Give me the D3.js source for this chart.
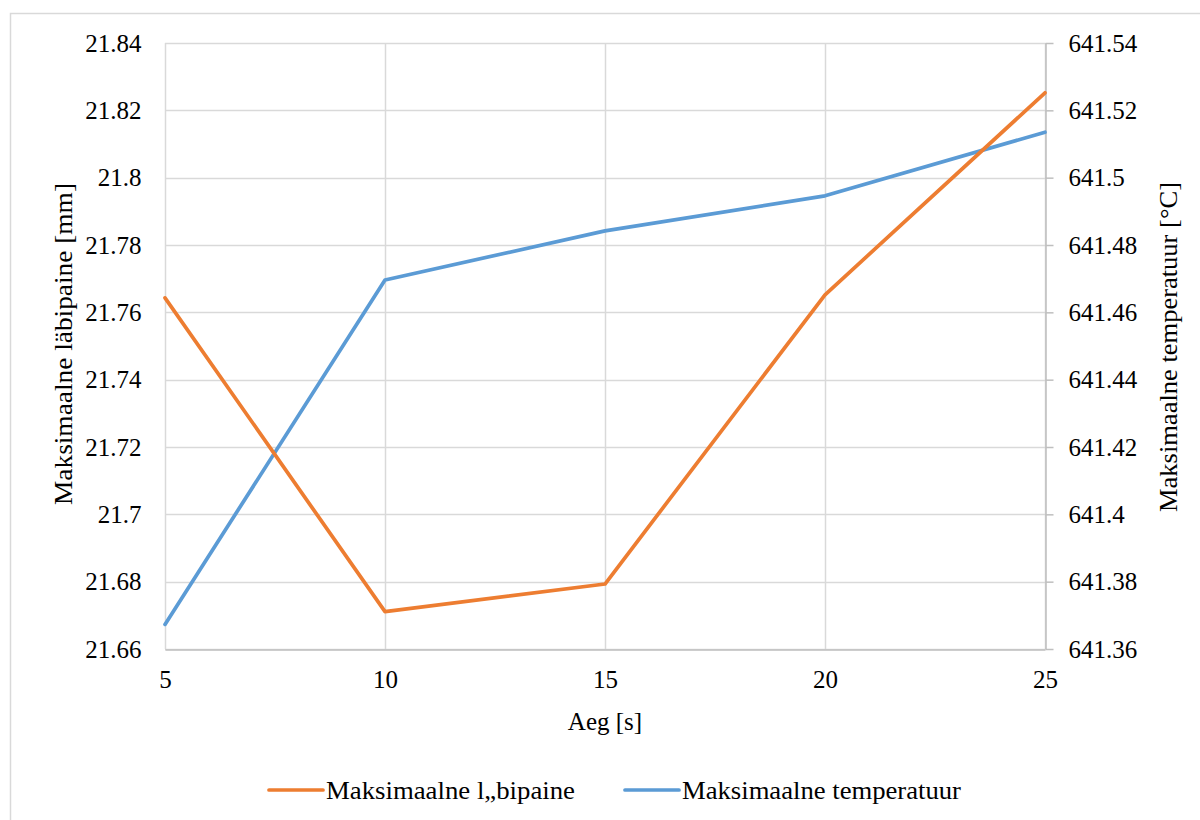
<!DOCTYPE html>
<html>
<head>
<meta charset="utf-8">
<script src="https://cdn.jsdelivr.net/npm/d3@7"></script>
<style>
  html, body { margin: 0; padding: 0; background: #fff; }
  svg { display: block; }
</style>
</head>
<body>
<svg id="chart" width="1200" height="820"></svg>
<script>
// Time steps and the two measured series
const times = [5, 10, 15, 20, 25];
const deflection = [21.7643, 21.6711, 21.6793, 21.7652, 21.8252];
const temperature = [641.3673, 641.4696, 641.4842, 641.4946, 641.5135];

const xTicks = [5, 10, 15, 20, 25];
const leftTicks = [21.66, 21.68, 21.70, 21.72, 21.74, 21.76, 21.78, 21.80, 21.82, 21.84];
const rightTicks = [641.36, 641.38, 641.40, 641.42, 641.44, 641.46, 641.48, 641.50, 641.52, 641.54];

const seriesNames = ["Maksimaalne l\u201ebipaine", "Maksimaalne temperatuur"];
const seriesColors = ["#ED7D31", "#5B9BD5"];

const FONT = "'Liberation Serif', 'Times New Roman', Times, 'DejaVu Serif', serif";
const FS = 25;
const LINE_W = 3.7;

const svg = d3.select("#chart");
const plot = { left: 165, right: 1045, top: 43, bottom: 649 };

// chart frame
svg.append("rect")
  .attr("x", 10.5).attr("y", 13.5)
  .attr("width", 1200).attr("height", 820)
  .attr("fill", "#fff").attr("stroke", "#d9d9d9").attr("stroke-width", 1.5);

const x = d3.scaleLinear().domain([5, 25]).range([plot.left, plot.right]);
const yL = d3.scaleLinear().domain([21.66, 21.84]).range([plot.bottom, plot.top]);
const yR = d3.scaleLinear().domain([641.36, 641.54]).range([plot.bottom, plot.top]);

const fmt = v => String(+v.toFixed(2));

// gridlines
const grid = svg.append("g");
grid.selectAll("line.h").data(leftTicks).join("line")
  .attr("x1", plot.left).attr("x2", plot.right)
  .attr("y1", d => Math.round(yL(d)) + 0.5).attr("y2", d => Math.round(yL(d)) + 0.5)
  .attr("stroke", "#d9d9d9").attr("stroke-width", 1.5);
grid.selectAll("line.v").data(xTicks).join("line")
  .attr("y1", plot.top).attr("y2", plot.bottom)
  .attr("x1", d => Math.round(x(d)) + 0.5).attr("x2", d => Math.round(x(d)) + 0.5)
  .attr("stroke", "#d9d9d9").attr("stroke-width", 1.5);

function styleText(sel) {
  sel.attr("font-family", FONT).attr("font-size", FS).attr("fill", "#000");
}

// bottom axis
const xAxis = svg.append("g").attr("transform", `translate(0,${plot.bottom + 0.5})`)
  .call(d3.axisBottom(x).tickValues(xTicks).tickSize(0).tickPadding(21).tickFormat(d3.format("d")));
xAxis.attr("font-family", FONT).attr("font-size", FS);
xAxis.select(".domain").attr("stroke", "#bfbfbf").attr("stroke-width", 1.5);
xAxis.selectAll("text").call(styleText);

// left axis
const lAxis = svg.append("g").attr("transform", `translate(${plot.left + 0.5},0)`)
  .call(d3.axisLeft(yL).tickValues(leftTicks).tickSize(0).tickPadding(24).tickFormat(fmt));
lAxis.attr("font-family", FONT).attr("font-size", FS);
lAxis.select(".domain").remove();
lAxis.selectAll("text").call(styleText);

// right axis
const rAxis = svg.append("g").attr("transform", `translate(${plot.right + 0.5},0)`)
  .call(d3.axisRight(yR).tickValues(rightTicks).tickSizeInner(8).tickSizeOuter(0).tickPadding(15).tickFormat(fmt));
rAxis.attr("font-family", FONT).attr("font-size", FS);
rAxis.select(".domain").attr("stroke", "#bfbfbf").attr("stroke-width", 1.5);
rAxis.selectAll(".tick line").attr("stroke", "#bfbfbf").attr("stroke-width", 1.5);
rAxis.selectAll("text").call(styleText);

// series lines
const lineL = d3.line().x((d, i) => x(times[i])).y(d => yL(d));
const lineR = d3.line().x((d, i) => x(times[i])).y(d => yR(d));
svg.append("path").datum(temperature).attr("d", lineR)
  .attr("fill", "none").attr("stroke", seriesColors[1]).attr("stroke-width", LINE_W)
  .attr("stroke-linejoin", "round").attr("stroke-linecap", "round");
svg.append("path").datum(deflection).attr("d", lineL)
  .attr("fill", "none").attr("stroke", seriesColors[0]).attr("stroke-width", LINE_W)
  .attr("stroke-linejoin", "round").attr("stroke-linecap", "round");

// axis titles
svg.append("text").attr("x", 605).attr("y", 730).attr("text-anchor", "middle")
  .call(styleText).text("Aeg [s]");
svg.append("text").attr("transform", "translate(72,344) rotate(-90)").attr("text-anchor", "middle")
  .call(styleText).attr("textLength", 322).attr("lengthAdjust", "spacingAndGlyphs")
  .text("Maksimaalne läbipaine [mm]");
svg.append("text").attr("transform", "translate(1177,347) rotate(-90)").attr("text-anchor", "middle")
  .call(styleText).attr("textLength", 330).attr("lengthAdjust", "spacingAndGlyphs")
  .text("Maksimaalne temperatuur [°C]");

// legend
const legendX = [269, 625];
const legendW = [249, 279];
const legend = svg.append("g");
seriesNames.forEach((name, i) => {
  legend.append("line")
    .attr("x1", legendX[i]).attr("x2", legendX[i] + 54)
    .attr("y1", 790).attr("y2", 790)
    .attr("stroke", seriesColors[i]).attr("stroke-width", LINE_W).attr("stroke-linecap", "round");
  legend.append("text").attr("x", legendX[i] + 57).attr("y", 799)
    .call(styleText).attr("textLength", legendW[i]).attr("lengthAdjust", "spacingAndGlyphs")
    .text(name);
});
</script>
</body>
</html>
